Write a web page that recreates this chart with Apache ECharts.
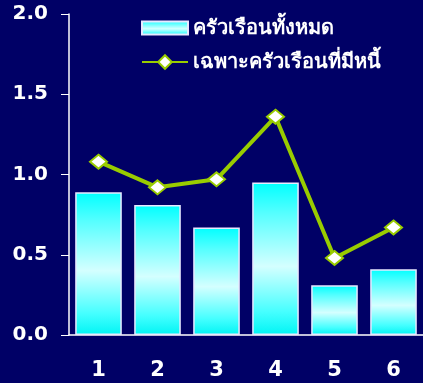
<!DOCTYPE html>
<html>
<head>
<meta charset="utf-8">
<script src="https://cdn.jsdelivr.net/npm/echarts@6/dist/echarts.min.js"></script>
<style>
  html, body { margin: 0; padding: 0; background: #000066; }
  #chart { width: 423px; height: 383px; }
</style>
</head>
<body>
<div id="chart"></div>
<script>
// Household groups 1–6
const categories = ['1', '2', '3', '4', '5', '6'];
// All households
const allHouseholds = [0.89, 0.81, 0.67, 0.95, 0.31, 0.41];
// Indebted households only
const indebtedOnly = [1.08, 0.92, 0.97, 1.36, 0.48, 0.67];
const yTicks = [0, 0.5, 1.0, 1.5, 2.0];

const nameAll = 'ครัวเรือนทั้งหมด';
const nameDebt = 'เฉพาะครัวเรือนที่มีหนี้';

const numFont = 'DejaVu Sans, Verdana, sans-serif';

const barFill = new echarts.graphic.LinearGradient(0, 0, 0, 1, [
  { offset: 0, color: '#00ffff' },
  { offset: 0.2, color: '#55ffff' },
  { offset: 0.55, color: '#d4ffff' },
  { offset: 0.85, color: '#45ffff' },
  { offset: 1, color: '#00f4f4' }
]);

const chart = echarts.init(document.getElementById('chart'));
chart.setOption({
  backgroundColor: '#000066',
  animation: false,
  legend: {
    orient: 'vertical',
    left: 141,
    top: 18,
    padding: 0,
    itemWidth: 46,
    itemHeight: 17,
    itemGap: 14,
    symbolKeepAspect: true,
    textStyle: { color: '#ffffff', fontSize: 20, fontWeight: 'bold', lineHeight: 17 },
    data: [
      { name: nameAll, icon: 'path://M0,0H46V13H0Z' },
      { name: nameDebt }
    ]
  },
  grid: { left: 69, top: 14, right: -5, bottom: 48 },
  xAxis: {
    type: 'category',
    data: categories,
    axisLine: { lineStyle: { color: '#ffffff', width: 1.5 } },
    axisTick: { length: 6, lineStyle: { color: '#ffffff' } },
    axisLabel: { color: '#ffffff', fontSize: 21, fontWeight: 'bold', fontFamily: numFont, margin: 25 }
  },
  yAxis: {
    type: 'value',
    min: yTicks[0],
    max: yTicks[yTicks.length - 1],
    interval: 0.5,
    splitLine: { show: false },
    axisLine: { show: true, lineStyle: { color: '#ffffff', width: 1.5 } },
    axisTick: { show: true, length: 8, lineStyle: { color: '#ffffff' } },
    axisLabel: {
      color: '#ffffff', fontSize: 20, fontWeight: 'bold', fontFamily: numFont, margin: 21,
      formatter: v => v.toFixed(1)
    }
  },
  series: [
    {
      name: nameAll,
      type: 'bar',
      data: allHouseholds,
      barWidth: '79%',
      itemStyle: { color: barFill, borderColor: '#e8e8ff', borderWidth: 1.5 }
    },
    {
      name: nameDebt,
      type: 'line',
      data: indebtedOnly,
      symbol: 'diamond',
      symbolSize: [17, 14],
      lineStyle: { color: '#99cc00', width: 4 },
      itemStyle: { color: '#ffffff', borderColor: '#99cc00', borderWidth: 2 }
    }
  ]
});
</script>
</body>
</html>
